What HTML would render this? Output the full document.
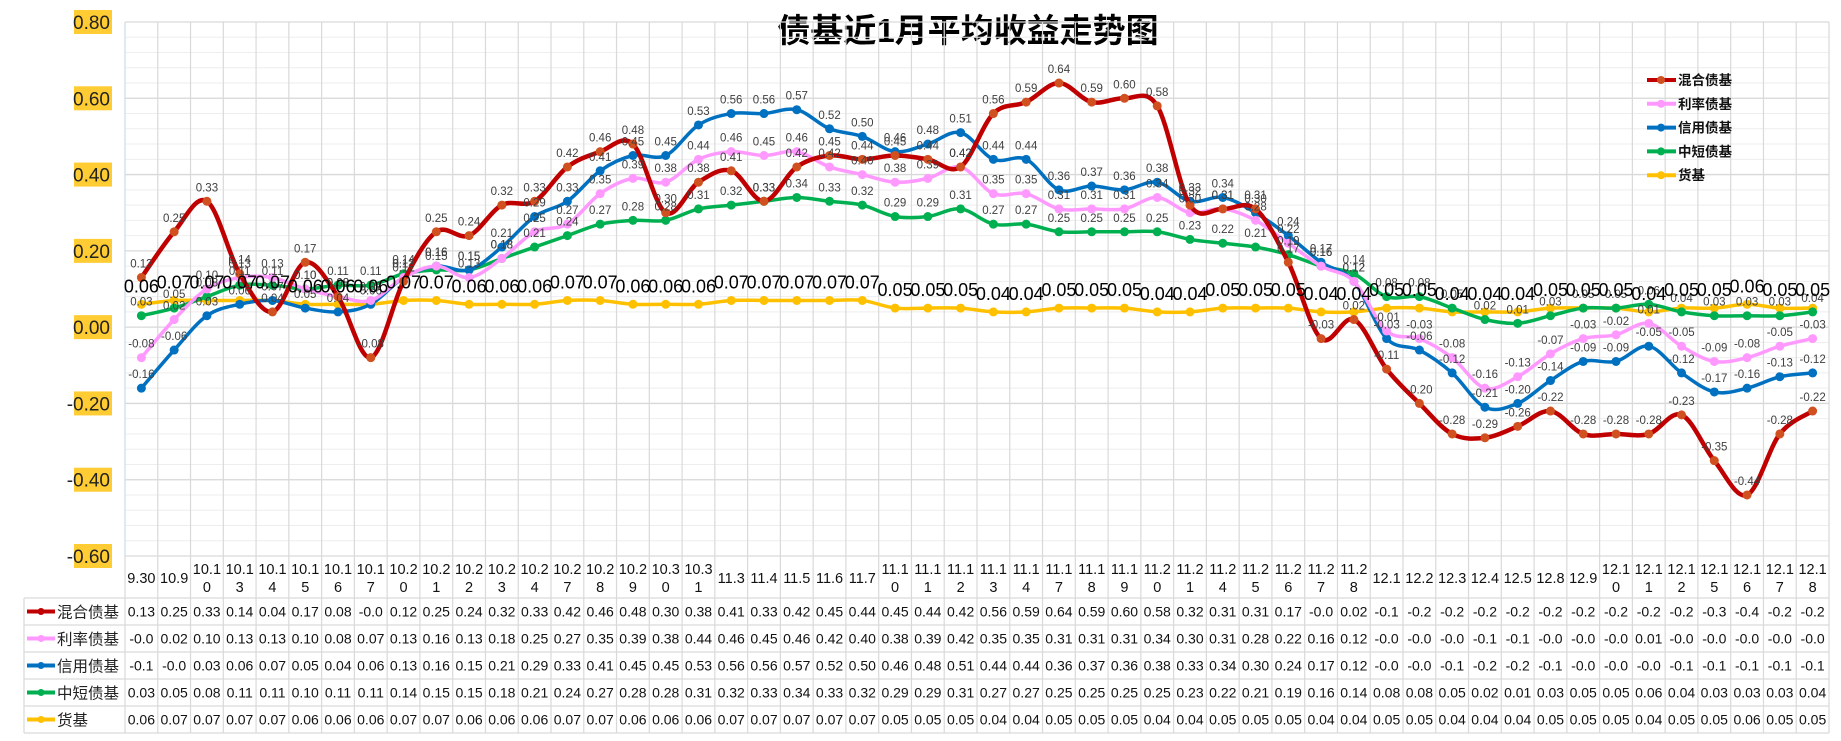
<!DOCTYPE html>
<html><head><meta charset="utf-8">
<style>
html,body{margin:0;padding:0;background:#fff;}
body{width:1841px;height:736px;overflow:hidden;font-family:"Liberation Sans","Noto Sans CJK SC",sans-serif;}
svg text{font-family:"Liberation Sans","Noto Sans CJK SC",sans-serif;}
</style></head>
<body>
<svg id="chart" width="1841" height="736" xmlns="http://www.w3.org/2000/svg">
<text x="968" y="42" text-anchor="middle" font-size="33" font-weight="bold" fill="#000">债基近1月平均收益走势图</text>
<g id="grid"></g><g id="yaxis"></g><g id="table"></g><g id="series"></g><g id="labels"></g>
<g id="legend"></g>
</svg>
<script>
const categories=["9.30","10.9","10.10","10.13","10.14","10.15","10.16","10.17","10.20","10.21","10.22","10.23","10.24","10.27","10.28","10.29","10.30","10.31","11.3","11.4","11.5","11.6","11.7","11.10","11.11","11.12","11.13","11.14","11.17","11.18","11.19","11.20","11.21","11.24","11.25","11.26","11.27","11.28","12.1","12.2","12.3","12.4","12.5","12.8","12.9","12.10","12.11","12.12","12.15","12.16","12.17","12.18"];
const mixed=[0.13,0.25,0.33,0.14,0.04,0.17,0.08,-0.08,0.12,0.25,0.24,0.32,0.33,0.42,0.46,0.48,0.30,0.38,0.41,0.33,0.42,0.45,0.44,0.45,0.44,0.42,0.56,0.59,0.64,0.59,0.60,0.58,0.32,0.31,0.31,0.17,-0.03,0.02,-0.11,-0.20,-0.28,-0.29,-0.26,-0.22,-0.28,-0.28,-0.28,-0.23,-0.35,-0.44,-0.28,-0.22];
const rate=[-0.08,0.02,0.10,0.13,0.13,0.10,0.08,0.07,0.13,0.16,0.13,0.18,0.25,0.27,0.35,0.39,0.38,0.44,0.46,0.45,0.46,0.42,0.40,0.38,0.39,0.42,0.35,0.35,0.31,0.31,0.31,0.34,0.30,0.31,0.28,0.22,0.16,0.12,-0.01,-0.03,-0.08,-0.16,-0.13,-0.07,-0.03,-0.02,0.01,-0.05,-0.09,-0.08,-0.05,-0.03];
const credit=[-0.16,-0.06,0.03,0.06,0.07,0.05,0.04,0.06,0.13,0.16,0.15,0.21,0.29,0.33,0.41,0.45,0.45,0.53,0.56,0.56,0.57,0.52,0.50,0.46,0.48,0.51,0.44,0.44,0.36,0.37,0.36,0.38,0.33,0.34,0.30,0.24,0.17,0.12,-0.03,-0.06,-0.12,-0.21,-0.20,-0.14,-0.09,-0.09,-0.05,-0.12,-0.17,-0.16,-0.13,-0.12];
const shortTerm=[0.03,0.05,0.08,0.11,0.11,0.10,0.11,0.11,0.14,0.15,0.15,0.18,0.21,0.24,0.27,0.28,0.28,0.31,0.32,0.33,0.34,0.33,0.32,0.29,0.29,0.31,0.27,0.27,0.25,0.25,0.25,0.25,0.23,0.22,0.21,0.19,0.16,0.14,0.08,0.08,0.05,0.02,0.01,0.03,0.05,0.05,0.06,0.04,0.03,0.03,0.03,0.04];
const money=[0.06,0.07,0.07,0.07,0.07,0.06,0.06,0.06,0.07,0.07,0.06,0.06,0.06,0.07,0.07,0.06,0.06,0.06,0.07,0.07,0.07,0.07,0.07,0.05,0.05,0.05,0.04,0.04,0.05,0.05,0.05,0.04,0.04,0.05,0.05,0.05,0.04,0.04,0.05,0.05,0.04,0.04,0.04,0.05,0.05,0.05,0.04,0.05,0.05,0.06,0.05,0.05];
const seriesNames=["混合债基","利率债基","信用债基","中短债基","货基"];
const yTicks=[0.8,0.6,0.4,0.2,0,-0.2,-0.4,-0.6];

const NS="http://www.w3.org/2000/svg";
const L=125,R=1829,T=22,B=556,YMAX=0.8,YMIN=-0.6;
const cw=(R-L)/categories.length;
const xs=i=>L+cw*(i+0.5);
const ys=v=>T+(YMAX-v)/(YMAX-YMIN)*(B-T);
function mk(tag,attrs,parent){const e=document.createElementNS(NS,tag);for(const k in attrs)e.setAttribute(k,attrs[k]);parent.appendChild(e);return e;}
const grid=document.getElementById('grid'),yaxis=document.getElementById('yaxis'),table=document.getElementById('table'),sg=document.getElementById('series'),lg=document.getElementById('labels'),leg=document.getElementById('legend');

for(let v=YMIN;v<=YMAX+1e-9;v+=0.04){const y=ys(v);mk('line',{x1:L,x2:R,y1:y,y2:y,stroke:'#eeeeee','stroke-width':1},grid);}
yTicks.forEach(v=>{const y=ys(v);
 const ln=mk('line',{x1:L,x2:R,y1:y,y2:y,stroke:'#d9d9d9','stroke-width':1.3},grid);
 
 
 const bg=mk('rect',{x:74,y:y-12,width:38,height:24,fill:'#ffcc33'},yaxis);
 
 
 const t=mk('text',{x:110,y:y+7,'text-anchor':'end','font-size':19,fill:'#222'},yaxis);
 t.textContent=v.toFixed(2);
 
 
});
const tableBottom=733,rowH=27,catBottom=598;
for(let i=0;i<=categories.length;i++){const x=L+cw*i;mk('line',{x1:x,x2:x,y1:T,y2:tableBottom,stroke:'#d9d9d9','stroke-width':1.2},grid);}
mk('line',{x1:L,x2:L,y1:T,y2:B,stroke:'#cfe0f0','stroke-width':1.2},grid);
for(let r=0;r<=5;r++){const y=catBottom+r*rowH;mk('line',{x1:24,x2:R,y1:y,y2:y,stroke:'#d9d9d9','stroke-width':1.2},table);}
mk('line',{x1:24,x2:24,y1:catBottom,y2:tableBottom,stroke:'#d9d9d9','stroke-width':1.2},table);
categories.forEach((c,i)=>{
 const x=xs(i);
 if(c.length>4){
  const t1=mk('text',{x:x,y:574,'text-anchor':'middle','font-size':14.5,fill:'#111'},table);t1.textContent=c.slice(0,4);
  
  
  const t2=mk('text',{x:x,y:592,'text-anchor':'middle','font-size':14.5,fill:'#111'},table);t2.textContent=c.slice(4);
  
  
 } else {
  const t=mk('text',{x:x,y:583,'text-anchor':'middle','font-size':14.5,fill:'#111'},table);t.textContent=c;
  
  
 }
});
const allSeries=[mixed,rate,credit,shortTerm,money];
const colors=["#c00000","#ff99ff","#0070c0","#00b050","#ffc000"];
const widths=[4.5,3.5,3.5,3.5,3.5];
function fmtCell(v){return v.toFixed(2).slice(0,4);}
allSeries.forEach((data,si)=>{
 const y=catBottom+si*rowH+rowH/2;
 const k=mk('line',{x1:27,x2:55,y1:y,y2:y,stroke:colors[si],'stroke-width':4},table);
 
 
 mk('circle',{cx:41,cy:y,r:3.5,fill:colors[si]},table);
 const nm=mk('text',{x:57,y:y+6,'font-size':15.5,fill:'#222'},table);nm.textContent=seriesNames[si];
 
 
 data.forEach((v,i)=>{
  const t=mk('text',{x:xs(i),y:y+5,'text-anchor':'middle','font-size':14,fill:'#111'},table);
  t.textContent=fmtCell(v);
  
  
 });
});
function smoothPath(pts){let d=`M${pts[0][0]},${pts[0][1]}`;
 for(let i=0;i<pts.length-1;i++){const p0=pts[i-1]||pts[i],p1=pts[i],p2=pts[i+1],p3=pts[i+2]||p2;const t=1/6;
  d+=` C${p1[0]+(p2[0]-p0[0])*t},${p1[1]+(p2[1]-p0[1])*t} ${p2[0]-(p3[0]-p1[0])*t},${p2[1]-(p3[1]-p1[1])*t} ${p2[0]},${p2[1]}`;}
 return d;}
[4,3,2,1,0].forEach(si=>{
 const data=allSeries[si];
 const pts=data.map((v,i)=>[xs(i),ys(v)]);
 const p=mk('path',{d:smoothPath(pts),fill:'none',stroke:colors[si],'stroke-width':widths[si],'stroke-linejoin':'round'},sg);
 
 
 pts.forEach(pt=>{
  const c=mk('circle',{cx:pt[0],cy:pt[1],r:4.5,fill:si===0?'#d05020':colors[si]},sg);
  
  
 });
});
allSeries.forEach((data,si)=>{
 data.forEach((v,i)=>{
  const big=si===4;
  const t=mk('text',{x:xs(i),y:big?ys(v)-12:ys(v)-10,'text-anchor':'middle','font-size':big?18:11.5,fill:big?'#000':'#404040'},lg);
  t.textContent=v.toFixed(2);
  
  
 });
});
seriesNames.forEach((n,si)=>{
 const y=80+si*23.8;
 const k=mk('line',{x1:1647,x2:1676,y1:y,y2:y,stroke:colors[si],'stroke-width':4},leg);
 
 
 mk('circle',{cx:1661,cy:y,r:4,fill:si===0?'#d05020':colors[si]},leg);
 const t=mk('text',{x:1678,y:y+5,'font-size':13.5,'font-weight':'bold',fill:'#111'},leg);
 t.textContent=n;
 
 
});
</script>
</body></html>
